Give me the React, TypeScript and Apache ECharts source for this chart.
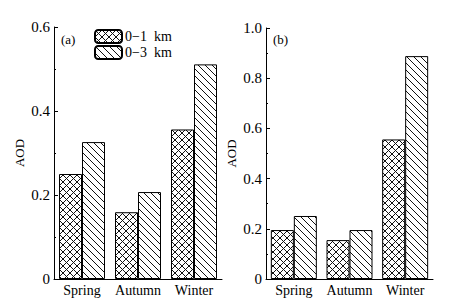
import React, { useEffect, useRef } from "react";
import * as echarts from "echarts";

const categories = ["Spring", "Autumn", "Winter"];
const seriesNames = ["0\u22121  km", "0\u22123  km"];
const panelA_0to1 = [0.25, 0.159, 0.356];
const panelA_0to3 = [0.326, 0.207, 0.511];
const panelB_0to1 = [0.195, 0.155, 0.556];
const panelB_0to3 = [0.251, 0.195, 0.888];
const panelLabels = ["(a)", "(b)"];

function makePattern(kind: "cross" | "hatch") {
  const s = 7;
  const c = document.createElement("canvas");
  c.width = s;
  c.height = s;
  const ctx = c.getContext("2d")!;
  ctx.fillStyle = "#ffffff";
  ctx.fillRect(0, 0, s, s);
  ctx.strokeStyle = "#111111";
  ctx.lineWidth = 1;
  ctx.beginPath();
  ctx.moveTo(-1, -1);
  ctx.lineTo(s + 1, s + 1);
  ctx.moveTo(-1 - s, -1);
  ctx.lineTo(1, s + 1);
  ctx.moveTo(s - 1, -1);
  ctx.lineTo(2 * s + 1, s + 1);
  if (kind === "cross") {
    ctx.moveTo(-1, s + 1);
    ctx.lineTo(s + 1, -1);
    ctx.moveTo(-1 - s, s + 1);
    ctx.lineTo(1, -1);
    ctx.moveTo(s - 1, s + 1);
    ctx.lineTo(2 * s + 1, -1);
  }
  ctx.stroke();
  return { image: c, repeat: "repeat" as const };
}

export default function App() {
  const ref = useRef<HTMLDivElement>(null);
  useEffect(() => {
    if (!ref.current) return;
    const chart = echarts.init(ref.current, undefined, { renderer: "svg" });
    const cross = makePattern("cross");
    const hatch = makePattern("hatch");
    const font = "Liberation Serif";
    const grids = [
      { left: 54, top: 27, width: 168, height: 252 },
      { left: 266, top: 28, width: 167, height: 251 },
    ];
    const yMax = [0.6, 1.0];
    const mkX = (i: number) => ({
      type: "category" as const,
      gridIndex: i,
      data: categories,
      axisLine: { lineStyle: { color: "#000", width: 1 } },
      axisTick: { show: false },
      axisLabel: { color: "#000", fontFamily: font, fontSize: 14, margin: 4, interval: 0 },
    });
    const mkY = (i: number) => ({
      type: "value" as const,
      gridIndex: i,
      min: 0,
      max: yMax[i],
      interval: 0.2,
      name: "AOD",
      nameLocation: "middle" as const,
      nameGap: 28,
      nameTextStyle: { color: "#000", fontFamily: font, fontSize: 13 },
      axisLine: { show: true, lineStyle: { color: "#000", width: 1 } },
      axisTick: { show: true, inside: true, length: 4, lineStyle: { color: "#000" } },
      minorTick: { show: true, splitNumber: 2, length: 2, lineStyle: { color: "#000" } },
      splitLine: { show: false },
      axisLabel: {
        color: "#000",
        fontFamily: font,
        fontSize: 15,
        margin: 4,
        formatter: (v: number) => (v === 0 ? "0" : v.toFixed(1)),
      },
    });
    const mkS = (name: string, data: number[], i: number, pat: any) => ({
      type: "bar" as const,
      name,
      xAxisIndex: i,
      yAxisIndex: i,
      data,
      barWidth: 23,
      barGap: "0%",
      itemStyle: { color: pat, borderColor: "#000", borderWidth: 1 },
    });
    chart.setOption({
      animation: false,
      backgroundColor: "#fff",
      grid: grids,
      xAxis: [mkX(0), mkX(1)],
      yAxis: [mkY(0), mkY(1)],
      legend: {
        data: seriesNames,
        orient: "vertical",
        left: 94,
        top: 29,
        itemWidth: 27,
        itemHeight: 13,
        itemGap: 1,
        textStyle: { color: "#000", fontFamily: font, fontSize: 14, padding: [0, 0, 0, -2] },
        selectedMode: false,
        padding: 0,
      },
      series: [
        mkS(seriesNames[0], panelA_0to1, 0, cross),
        mkS(seriesNames[1], panelA_0to3, 0, hatch),
        mkS(seriesNames[0], panelB_0to1, 1, cross),
        mkS(seriesNames[1], panelB_0to3, 1, hatch),
      ],
      graphic: [
        {
          type: "text",
          left: 61,
          top: 33,
          style: { text: panelLabels[0], fill: "#000", font: `13px "${font}"` },
        },
        {
          type: "text",
          left: 273,
          top: 33,
          style: { text: panelLabels[1], fill: "#000", font: `13px "${font}"` },
        },
      ],
    });
    return () => chart.dispose();
  }, []);
  return <div ref={ref} style={{ width: 454, height: 308, margin: -8 }} />;
}
